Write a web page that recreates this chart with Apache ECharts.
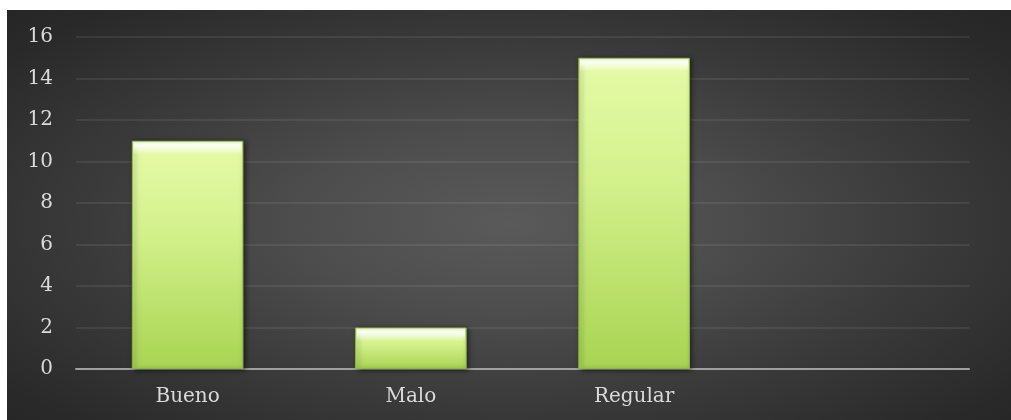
<!DOCTYPE html>
<html>
<head>
<meta charset="utf-8">
<script src="https://cdn.jsdelivr.net/npm/echarts@6/dist/echarts.min.js"></script>
<style>
  html, body { margin: 0; padding: 0; background: #ffffff; }
  #chart {
    position: absolute; left: 7px; top: 10px; width: 1004px; height: 410px;
    background: radial-gradient(ellipse farthest-corner at 50% 52%, #5a5a5a 0%, #4d4d4d 30%, #3a3a3a 60%, #292929 90%, #262626 100%);
  }
</style>
</head>
<body>
<div id="chart"></div>
<script>
const categories = ['Bueno', 'Malo', 'Regular', ''];
const values = [11, 2, 15, null];
const yTicks = [0, 2, 4, 6, 8, 10, 12, 14, 16];

const chart = echarts.init(document.getElementById('chart'), null, { renderer: 'canvas' });
const labelFont = { fontFamily: 'DejaVu Serif', fontSize: 20, color: '#dadada' };

chart.setOption({
  animation: false,
  backgroundColor: 'transparent',
  grid: { left: 69, right: 42, top: 27, bottom: 51, containLabel: false },
  xAxis: {
    type: 'category',
    data: categories,
    axisLine: { show: true, lineStyle: { color: '#a0a0a0', width: 2 } },
    axisTick: { show: false },
    axisLabel: Object.assign({ margin: 18, interval: 0 }, labelFont)
  },
  yAxis: {
    type: 'value',
    min: yTicks[0],
    max: yTicks[yTicks.length - 1],
    interval: 2,
    axisLine: { show: false },
    axisTick: { show: false },
    axisLabel: Object.assign({ margin: 23 }, labelFont),
    splitLine: { show: true, lineStyle: { color: 'rgba(255,255,255,0.075)', width: 2 } }
  },
  series: [
    {
      type: 'bar',
      data: values,
      barWidth: '50%',
      z: 2,
      itemStyle: {
        color: new echarts.graphic.LinearGradient(0, 0, 0, 1, [
          { offset: 0, color: '#e6fba8' },
          { offset: 0.4, color: '#d3f18c' },
          { offset: 1, color: '#a8d452' }
        ]),
        borderColor: '#8fb545',
        borderWidth: 1,
        shadowColor: 'rgba(0,0,0,0.55)',
        shadowBlur: 5,
        shadowOffsetX: 2,
        shadowOffsetY: 1
      }
    },
    {
      type: 'pictorialBar',
      data: values,
      barWidth: '50%',
      symbol: 'rect',
      symbolRepeat: false,
      symbolSize: ['97%', 13],
      symbolPosition: 'end',
      symbolOffset: [0, 1],
      barGap: '-100%',
      z: 3,
      silent: true,
      itemStyle: {
        color: new echarts.graphic.LinearGradient(0, 0, 0, 1, [
          { offset: 0, color: 'rgba(255,255,255,0.45)' },
          { offset: 0.25, color: 'rgba(255,255,255,0.95)' },
          { offset: 1, color: 'rgba(255,255,255,0)' }
        ])
      }
    }
  ]
});
</script>
</body>
</html>
